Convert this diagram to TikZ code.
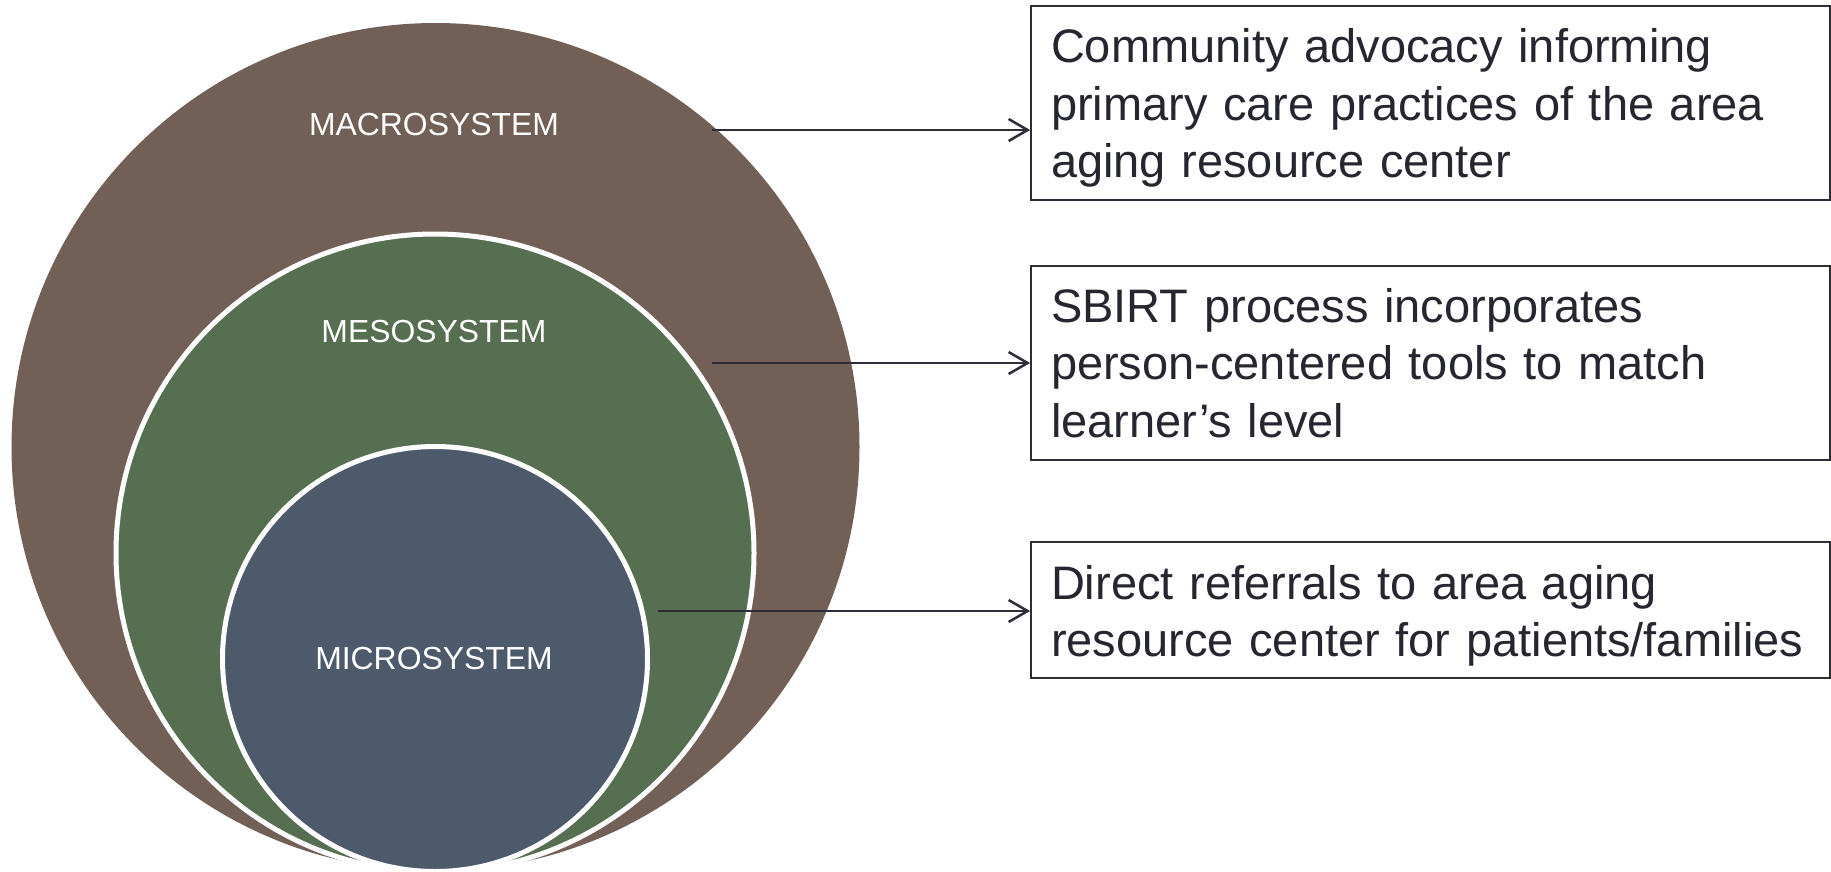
\documentclass[tikz,border=0pt]{standalone}
\usepackage{fontspec}
\setmainfont{Liberation Sans}
\usetikzlibrary{arrows.meta}
\definecolor{macroc}{RGB}{114,96,86}
\definecolor{mesoc}{RGB}{85,111,80}
\definecolor{microc}{RGB}{76,90,107}
\definecolor{inkc}{RGB}{38,38,48}
\definecolor{linec}{RGB}{45,45,56}
\tikzset{
  x=1pt, y=-1pt,
  ring/.style={circle, inner sep=0pt, outer sep=0pt},
  ringlabel/.style={text=white, font=\fontsize{31.9}{38}\selectfont, inner sep=0pt},
  infobox/.style={draw=linec, line width=1.8pt, fill=white, text=inkc, align=left,
    text width=759pt, inner xsep=20pt, inner ysep=0pt, minimum height=194pt,
    font=\fontsize{47}{57.5}\selectfont},
  arr/.style={draw=linec, line width=2.5pt, -{Straight Barb[length=19pt,width=22pt,line width=2.5pt]}}
}
\begin{document}
\begin{tikzpicture}
\useasboundingbox (0,0) rectangle (1831,871);
\node[ring, fill=macroc, minimum size=848pt] (macro) at (435.5,447) {};
\node[ring, fill=mesoc, draw=white, line width=5pt, minimum size=638pt] (meso) at (435,553) {};
\node[ring, fill=microc, draw=white, line width=5pt, minimum size=425pt] (micro) at (435,659) {};
\node[ringlabel] (lmacro) at (434,125) {MACROSYSTEM};
\node[ringlabel] (lmeso) at (434,332) {MESOSYSTEM};
\node[ringlabel] (lmicro) at (434,659) {MICROSYSTEM};
\node[infobox] (b1) at (1430.5,103) {\rule{0pt}{44pt}\mbox{Community advocacy informing}\\\mbox{primary care practices of the area}\\\mbox{aging resource center}};
\node[infobox] (b2) at (1430.5,363) {\mbox{SBIRT process incorporates}\\\mbox{person-centered tools to match}\\\mbox{learner’s level}};
\node[infobox, minimum height=136pt] (b3) at (1430.5,610) {\rule{0pt}{46pt}\mbox{Direct referrals to area aging}\\\mbox{resource center for patients/families}};
\coordinate (s1) at (712,130);
\coordinate (s2) at (712,363);
\coordinate (s3) at (658,611);
\draw[arr] (s1) -- (s1 -| b1.west);
\draw[arr] (s2) -- (s2 -| b2.west);
\draw[arr] (s3) -- (s3 -| b3.west);
\end{tikzpicture}
\end{document}
